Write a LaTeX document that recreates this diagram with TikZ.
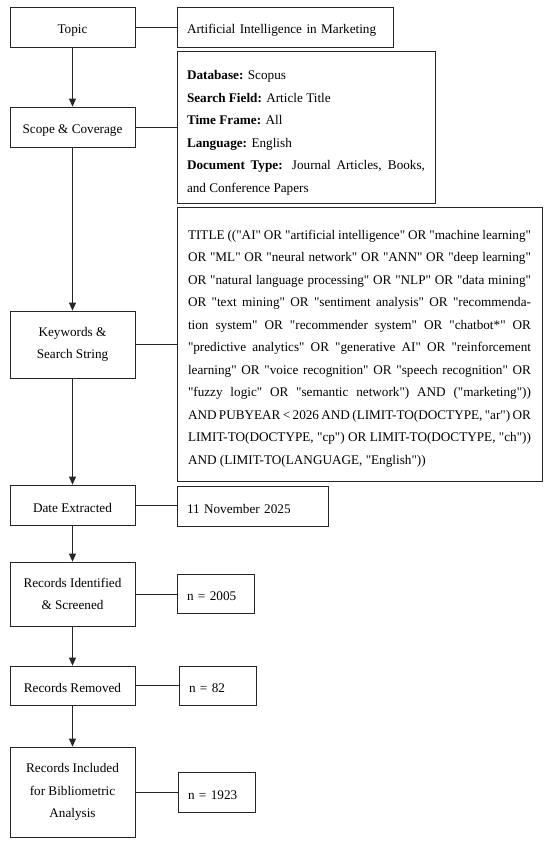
\documentclass[tikz,border=0pt]{standalone}
\usepackage{fontspec}
\setmainfont{Liberation Serif}[Ligatures=TeXOff]
\usetikzlibrary{arrows.meta}
\begin{document}
\begin{tikzpicture}[x=1pt,y=-1pt,
  box/.style={draw=black!85, line width=0.8pt, rectangle, inner ysep=0pt,
    font=\fontsize{13.2}{22.5}\selectfont, execute at begin node={\rule{0pt}{15pt}}},
  lbox/.style={box, inner xsep=0pt, align=center, minimum width=125pt},
  rbox/.style={box, inner xsep=10pt, align=left},
  flow/.style={draw=black!85, line width=0.8pt, -{Triangle[length=8pt,width=7pt]}},
  link/.style={draw=black!85, line width=0.8pt}]
\useasboundingbox[fill=white] (0,0) rectangle (550,844);

% left column
\node[lbox, minimum height=40pt] (topic) at (72.5,27) {Topic};
\node[lbox, minimum height=40pt] (scope) at (72.5,127) {Scope \& Coverage};
\node[lbox, minimum height=67pt] (kw) at (72.5,344.5) {Keywords \&\\Search String};
\node[lbox, minimum height=40pt] (date) at (72.5,505) {Date Extracted};
\node[lbox, minimum height=64pt] (ident) at (72.5,594) {Records Identified\\\& Screened};
\node[lbox, minimum height=39pt] (rem) at (72.5,685.5) {Records Removed};
\node[lbox, minimum height=90pt] (incl) at (72.5,792) {Records Included\\for Bibliometric\\Analysis};

% right column
\node[rbox, text width=196pt, minimum height=40pt] (topicR) at (285,27) {Artificial Intelligence in Marketing};
\node[rbox, text width=238pt, minimum height=152pt, align=justify] (scopeR) at (306,127)
 {\rule{0pt}{21pt}\textbf{Database:} Scopus\newline
  \textbf{Search Field:} Article Title\newline
  \textbf{Time Frame:} All\newline
  \textbf{Language:} English\newline
  \textbf{Document Type:} Journal Articles, Books,\linebreak
  and Conference Papers};
\node[rbox, inner xsep=11pt, text width=343pt, minimum height=274pt, align=justify] (kwR) at (359.5,344)
 {\rule{0pt}{18pt}TITLE (("AI" OR "artificial intelligence" OR "machine learning"\linebreak
  OR "ML" OR "neural network" OR "ANN" OR "deep learning"\linebreak
  OR "natural language processing" OR "NLP" OR "data mining"\linebreak
  OR "text mining" OR "sentiment analysis" OR "recommenda-\linebreak
  tion system" OR "recommender system" OR "chatbot*" OR\linebreak
  "predictive analytics" OR "generative AI" OR "reinforcement\linebreak
  learning" OR "voice recognition" OR "speech recognition" OR\linebreak
  "fuzzy logic" OR "semantic network") AND ("marketing"))\linebreak
  AND PUBYEAR < 2026 AND (LIMIT-TO(DOCTYPE, "ar") OR\linebreak
  LIMIT-TO(DOCTYPE, "cp") OR LIMIT-TO(DOCTYPE, "ch"))\linebreak
  AND (LIMIT-TO(LANGUAGE, "English"))};
\node[rbox, text width=131pt, minimum height=40pt] (dateR) at (252.5,506) {11 November 2025};
\node[rbox, text width=57pt, minimum height=39pt] (identR) at (215.5,593.5) {n = 2005};
\node[rbox, text width=57pt, minimum height=39pt] (remR) at (217.5,685.5) {n = 82};
\node[rbox, text width=57pt, minimum height=40pt] (inclR) at (216.5,792) {n = 1923};

% flow arrows
\draw[flow] (topic) -- (scope);
\draw[flow] (scope) -- (kw);
\draw[flow] (kw) -- (date);
\draw[flow] (date) -- (ident);
\draw[flow] (ident) -- (rem);
\draw[flow] (rem) -- (incl);

% links
\draw[link] (topic.east) -- (topic.east -| topicR.west);
\draw[link] (scope.east) -- (scope.east -| scopeR.west);
\draw[link] (kw.east) -- (kw.east -| kwR.west);
\draw[link] (date.east) -- (date.east -| dateR.west);
\draw[link] (ident.east) -- (ident.east -| identR.west);
\draw[link] (rem.east) -- (rem.east -| remR.west);
\draw[link] (incl.east) -- (incl.east -| inclR.west);
\end{tikzpicture}
\end{document}
